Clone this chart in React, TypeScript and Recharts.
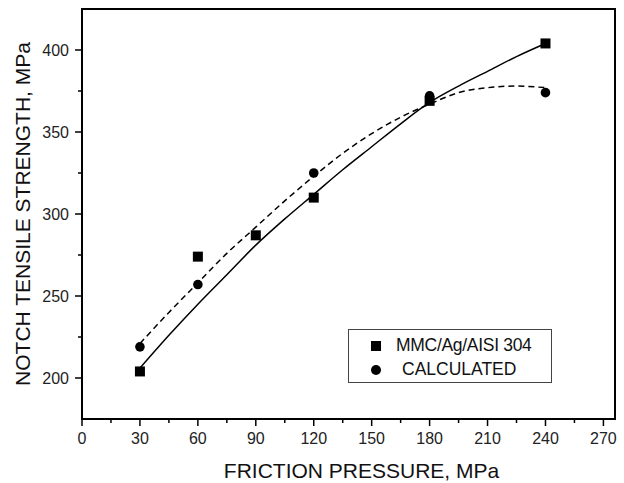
import { ComposedChart, Line, XAxis, YAxis, ReferenceArea } from 'recharts'

// measured points
const pressure = [30, 60, 90, 120, 180, 240]
const mmcStrength = [204, 274, 287, 310, 369, 404]
const calcPressure = [30, 60, 120, 180, 240]
const calcStrength = [219, 257, 325, 372, 374]

// fitted curves
const fitPressure = [30, 45, 60, 75, 90, 105, 120, 135, 150, 165, 180, 195, 210, 225, 240]
const mmcFit = [206, 226, 245, 263, 281, 297, 312, 327, 341, 355, 368, 378, 387, 396, 404]
const calcFit = [221, 240, 258, 276, 292, 308, 323, 337, 349, 359, 367, 374, 377, 378, 377]

const xMajor = [0, 30, 60, 90, 120, 150, 180, 210, 240, 270]
const xMinor = [15, 45, 75, 105, 135, 165, 195, 225, 255]
const yMajor = [200, 250, 300, 350, 400]
const yMinor = [225, 275, 325, 375]

const FONT = '"Liberation Sans", Arial, Helvetica, sans-serif'
const INK = '#000'

const toPts = (xs: number[], ys: number[]) => xs.map((x, i) => ({ x, y: ys[i] }))
const mmcData = toPts(pressure, mmcStrength)
const calcData = toPts(calcPressure, calcStrength)
const mmcFitData = toPts(fitPressure, mmcFit)
const calcFitData = toPts(fitPressure, calcFit)

const xTicks = [...xMajor, ...xMinor].sort((a, b) => a - b)
const yTicks = [...yMajor, ...yMinor].sort((a, b) => a - b)

const XTick = (props: any) => {
  const { x, y, payload } = props
  const major = xMajor.includes(payload.value)
  return (
    <g>
      <line x1={x} x2={x} y1={y} y2={y + (major ? 7 : 4)} stroke={INK} strokeWidth={1.5} />
      {major && (
        <text x={x} y={y + 25} textAnchor="middle" fontSize={16} fontFamily={FONT} fill="#222">{payload.value}</text>
      )}
    </g>
  )
}

const YTick = (props: any) => {
  const { x, y, payload } = props
  const major = yMajor.includes(payload.value)
  return (
    <g>
      <line x1={x} x2={x - (major ? 7 : 4)} y1={y} y2={y} stroke={INK} strokeWidth={1.5} />
      {major && (
        <text x={x - 13} y={y + 5.5} textAnchor="end" fontSize={16} fontFamily={FONT} fill="#222">{payload.value}</text>
      )}
    </g>
  )
}

const SquareDot = (p: any) => (
  <rect key={`s${p.index}`} x={p.cx - 5} y={p.cy - 5} width={10} height={10} fill={INK} />
)
const CircleDot = (p: any) => (
  <circle key={`c${p.index}`} cx={p.cx} cy={p.cy} r={4.8} fill={INK} />
)

export default function App() {
  return (
    <div style={{ position: 'absolute', left: 0, top: 0, width: 624, height: 483, background: '#fff' }}>
      <ComposedChart width={624} height={483} margin={{ top: 9, right: 9, bottom: 0, left: 0 }}>
        <XAxis dataKey="x" type="number" domain={[0, 276]} ticks={xTicks} interval={0} tick={<XTick />}
          tickSize={0} tickMargin={0} tickLine={false} axisLine={{ stroke: INK, strokeWidth: 2 }} height={64}
          label={({ viewBox }: any) => (
            <text x={viewBox.x + viewBox.width / 2 + 13} y={viewBox.y + 59} textAnchor="middle" fontSize={21} fontFamily={FONT} fill="#111">
              FRICTION PRESSURE, MPa
            </text>
          )} />
        <YAxis type="number" domain={[175, 425]} ticks={yTicks} interval={0} tick={<YTick />}
          tickSize={0} tickMargin={0} tickLine={false} axisLine={{ stroke: INK, strokeWidth: 2 }} width={82}
          label={({ viewBox }: any) => {
            const cy = viewBox.y + viewBox.height / 2
            return (
              <text x={30} y={cy} transform={`rotate(-90 30 ${cy})`} textAnchor="middle" fontSize={21} fontFamily={FONT} fill="#111">
                NOTCH TENSILE STRENGTH, MPa
              </text>
            )
          }} />
        <ReferenceArea x1={0} x2={276} y1={175} y2={425} fill="none" stroke={INK} strokeWidth={2} ifOverflow="visible" />
        <Line data={mmcFitData} dataKey="y" type="monotone" stroke={INK} strokeWidth={1.5} dot={false} activeDot={false} isAnimationActive={false} />
        <Line data={calcFitData} dataKey="y" type="monotone" stroke={INK} strokeWidth={1.5} strokeDasharray="6 4" dot={false} activeDot={false} isAnimationActive={false} />
        <Line data={mmcData} dataKey="y" stroke="none" dot={SquareDot} activeDot={false} isAnimationActive={false} />
        <Line data={calcData} dataKey="y" stroke="none" dot={CircleDot} activeDot={false} isAnimationActive={false} />
      </ComposedChart>
      <div style={{ position: 'absolute', left: 348, top: 329, width: 204, height: 54, border: '1px solid #444', boxSizing: 'border-box', fontFamily: FONT, fontSize: 17.5, color: '#111' }}>
        <span style={{ position: 'absolute', left: 22, top: 11, width: 10, height: 10, background: INK }} />
        <span style={{ position: 'absolute', left: 47, top: 5, lineHeight: '20px', whiteSpace: 'nowrap', letterSpacing: -0.3 }}>MMC/Ag/AISI 304</span>
        <span style={{ position: 'absolute', left: 22, top: 35, width: 10, height: 10, borderRadius: '50%', background: INK }} />
        <span style={{ position: 'absolute', left: 53, top: 29, lineHeight: '20px', whiteSpace: 'nowrap' }}>CALCULATED</span>
      </div>
    </div>
  )
}
